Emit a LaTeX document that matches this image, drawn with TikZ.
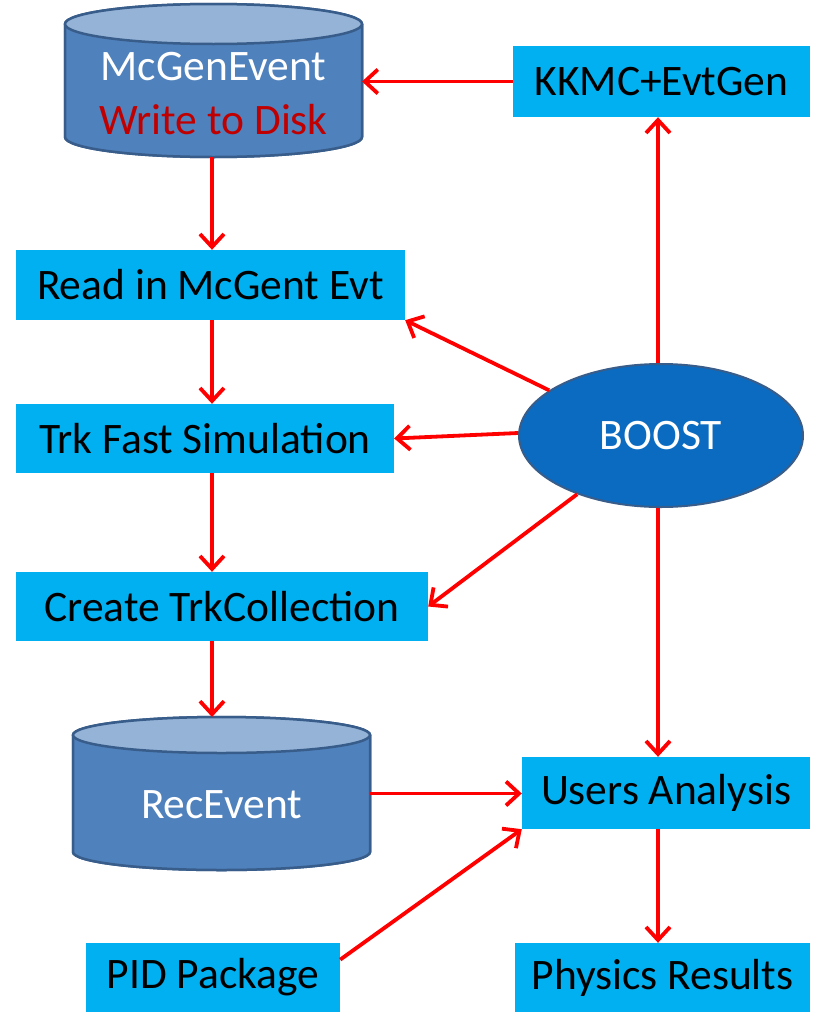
\documentclass[tikz,border=0pt]{standalone}
\usepackage{fontspec}
\setmainfont{Carlito}
\usetikzlibrary{arrows.meta,shapes.geometric}
\definecolor{boxc}{HTML}{00B0F0}
\definecolor{cylbodyc}{HTML}{4F81BD}
\definecolor{cyltopc}{HTML}{95B3D7}
\definecolor{cylline}{HTML}{385D8A}
\definecolor{boostc}{HTML}{0A6BC0}
\definecolor{darkred}{HTML}{C00000}
\newcommand\diafont{\fontsize{43.5}{53}\selectfont}
\tikzset{
  pbox/.style={fill=boxc, inner sep=0pt, text=black, font=\diafont},
  cylshape/.style={fill=cylbodyc, draw=cylline, line width=2.5pt},
  cyltop/.style={fill=cyltopc, draw=cylline, line width=2.5pt},
  anchorbox/.style={inner sep=0pt, outer sep=0pt},
  arr/.style={draw=red, line width=3.8pt, -{Straight Barb[length=13pt,width=24pt,line width=3.8pt]}},
}
\begin{document}
\begin{tikzpicture}[x=1pt,y=1pt]
\useasboundingbox (0,0) rectangle (813,-1012);

% McGenEvent cylinder
\fill[cylshape] (65,-24) -- (65,-137) arc[start angle=180,end angle=360,x radius=148.5,y radius=20] -- (362,-24) arc[start angle=0,end angle=180,x radius=148.5,y radius=20] -- cycle;
\draw[cylshape] (65,-24) -- (65,-137) arc[start angle=180,end angle=360,x radius=148.5,y radius=20] -- (362,-24);
\draw[cyltop] (213.5,-24) ellipse[x radius=148.5,y radius=20];
\node[anchorbox, minimum width=297pt, minimum height=153pt] (mcgen) at (213.5,-80.5) {};
\node[font=\diafont, text=white] (mcgent1) at (213.5,-67) {McGenEvent};
\node[font=\diafont, text=darkred] (mcgent2) at (213.5,-120) {Write to Disk};

% RecEvent cylinder
\fill[cylshape] (73,-735) -- (73,-852) arc[start angle=180,end angle=360,x radius=148.5,y radius=18] -- (370,-735) arc[start angle=0,end angle=180,x radius=148.5,y radius=18] -- cycle;
\draw[cylshape] (73,-735) -- (73,-852) arc[start angle=180,end angle=360,x radius=148.5,y radius=18] -- (370,-735);
\draw[cyltop] (221.5,-735) ellipse[x radius=148.5,y radius=18];
\node[anchorbox, minimum width=297pt, minimum height=153pt] (rec) at (221.5,-793.5) {};
\node[font=\diafont, text=white] (rect) at (221.5,-805) {RecEvent};

% boxes
\node[pbox, minimum width=297pt, minimum height=71pt] (kkmc) at (661.5,-81.5) {KKMC+EvtGen};
\node[pbox, minimum width=389pt, minimum height=70pt] (read) at (210.5,-285) {Read in McGent Evt};
\node[pbox, minimum width=378pt, minimum height=69pt] (trk) at (205,-438.5) {Trk Fast Simulation};
\node[pbox, minimum width=412pt, minimum height=69pt] (create) at (222,-606.5) {Create TrkCollection};
\node[pbox, minimum width=288pt, minimum height=72pt] (users) at (666,-793) {Users Analysis};
\node[pbox, minimum width=254pt, minimum height=69pt] (pid) at (213,-977.5) {PID Package};
\node[pbox, minimum width=295pt, minimum height=69pt] (phys) at (662.5,-977.5) {Physics Results};

% BOOST
\node[ellipse, fill=boostc, draw=cylline, line width=2pt, minimum width=284pt, minimum height=143pt, inner sep=0pt, text=white, font=\diafont] (boost) at (661,-435.5) {BOOST};

% column helpers
\coordinate (lc) at (212,0);
\coordinate (rc) at (658,0);

% connectors
\draw[arr] (kkmc.west) -- (kkmc.west -| mcgen.east);
\draw[arr] (lc |- mcgen.south) -- (lc |- read.north);
\draw[arr] (lc |- read.south) -- (lc |- trk.north);
\draw[arr] (lc |- trk.south) -- (lc |- create.north);
\draw[arr] (lc |- create.south) -- (lc |- rec.north);
\draw[arr] (rec.east) -- (rec.east -| users.west);
\draw[arr] (pid.8) -- (users.south west);
\draw[arr] (rc |- users.south) -- (rc |- phys.north);
\draw[arr] (rc |- boost.north) -- (rc |- kkmc.south);
\draw[arr] (rc |- boost.south) -- (rc |- users.north);
\draw[arr] (boost.158) -- (read.south east);
\draw[arr] (boost.179) -- (trk.east);
\draw[arr] (boost.215) -- (create.east);
\end{tikzpicture}
\end{document}
